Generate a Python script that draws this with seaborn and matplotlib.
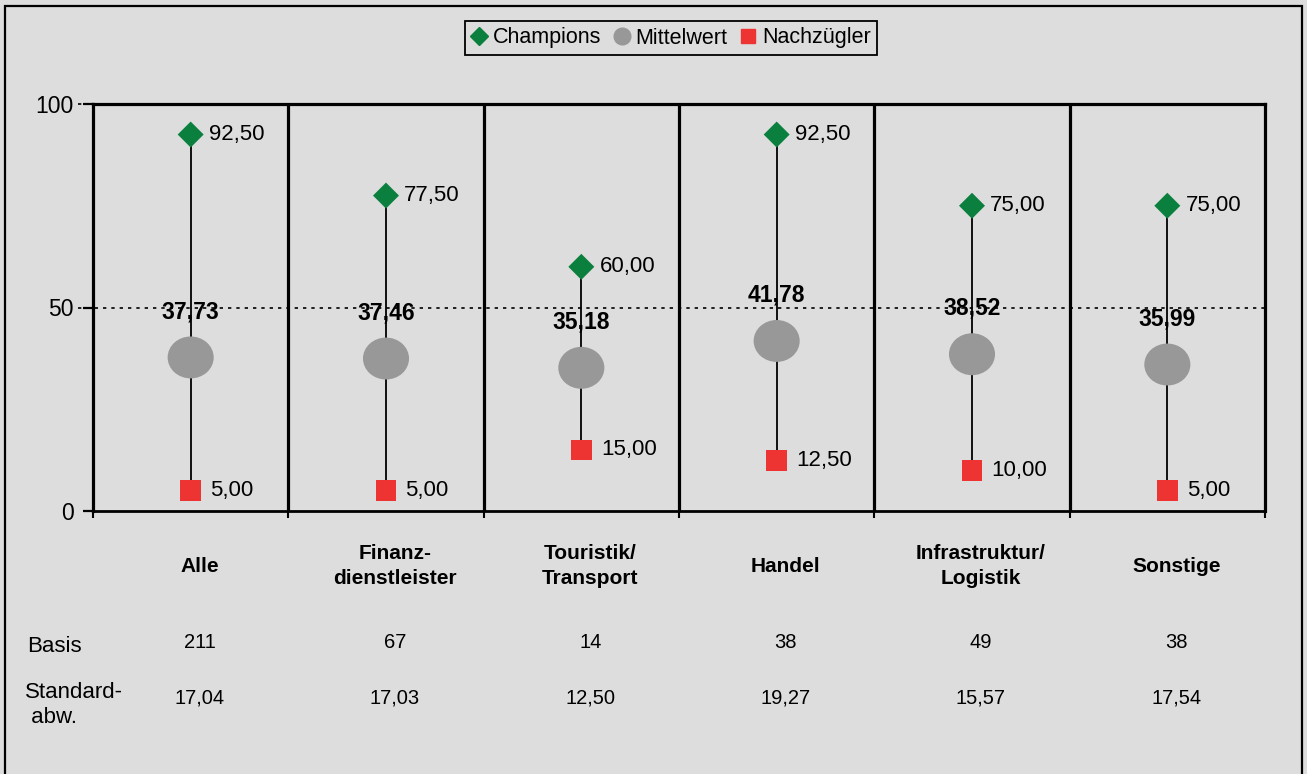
import matplotlib
matplotlib.use("Agg")
import matplotlib.pyplot as plt
import matplotlib.transforms as mtransforms
from matplotlib.lines import Line2D
from matplotlib.path import Path
from matplotlib.patches import Rectangle
import numpy as np
import pandas as pd
import seaborn as sns

categories = ["Alle", "Finanz-\ndienstleister", "Touristik/\nTransport", "Handel",
              "Infrastruktur/\nLogistik", "Sonstige"]
champions = [92.50, 77.50, 60.00, 92.50, 75.00, 75.00]
mittelwert = [37.73, 37.46, 35.18, 41.78, 38.52, 35.99]
nachzuegler = [5.00, 5.00, 15.00, 12.50, 10.00, 5.00]
basis = [211, 67, 14, 38, 49, 38]
standardabw = [17.04, 17.03, 12.50, 19.27, 15.57, 17.54]
yticks = [0, 50, 100]

BG = "#DDDDDD"
GREEN = "#0B7F3D"
GREY = "#989898"
RED = "#EE3333"

sns.set_style("white", {"axes.facecolor": BG, "figure.facecolor": BG,
                        "text.color": "black", "axes.labelcolor": "black",
                        "xtick.color": "black", "ytick.color": "black"})
plt.rcParams["font.family"] = ["Liberation Sans", "DejaVu Sans"]


def de(v):
    return f"{v:.2f}".replace(".", ",")


x = np.arange(len(categories))
df = pd.DataFrame({"x": x, "champions": champions, "mittelwert": mittelwert,
                   "nachzuegler": nachzuegler})

fig = plt.figure(figsize=(13.07, 7.74), dpi=100)
ax = fig.add_axes([93 / 1307, 1 - 511 / 774, (1265 - 93) / 1307, (511 - 104) / 774])
ax.set_xlim(-0.5, len(categories) - 0.5)
ax.set_ylim(0, 100)

# dotted reference lines
for yv in (50, 100):
    ax.axhline(yv, xmin=-0.013, xmax=1, color="black", lw=1.2,
               ls=(0, (2, 3)), clip_on=False, zorder=1)

# range lines from Nachzügler to Champions
ax.vlines(x, nachzuegler, champions, color="black", lw=1.3, zorder=2)

# category separators
for b in np.arange(0.5, len(categories) - 0.5, 1):
    ax.axvline(b, color="black", lw=2.3, zorder=3)

ellipse = Path.unit_circle().transformed(mtransforms.Affine2D().scale(1, 0.91))

sns.scatterplot(data=df, x="x", y="champions", marker="D", s=175, color=GREEN,
                edgecolor="none", ax=ax, zorder=5, legend=False)
sns.scatterplot(data=df, x="x", y="mittelwert", marker=ellipse, s=1100, color=GREY,
                edgecolor="none", ax=ax, zorder=5, legend=False)
sns.scatterplot(data=df, x="x", y="nachzuegler", marker="s", s=225, color=RED,
                edgecolor="none", ax=ax, zorder=5, legend=False)

for xi, c, m, n in zip(x, champions, mittelwert, nachzuegler):
    ax.annotate(de(c), (xi, c), xytext=(13, 0), textcoords="offset points",
                ha="left", va="center", fontsize=16, zorder=6)
    ax.annotate(de(n), (xi, n), xytext=(14, 0), textcoords="offset points",
                ha="left", va="center", fontsize=16, zorder=6)
    ax.annotate(de(m), (xi, m), xytext=(0, 33), textcoords="offset points",
                ha="center", va="center", fontsize=16.5, fontweight="bold", zorder=6)

# axes styling
for side in ("left", "right", "top"):
    ax.spines[side].set_visible(True)
    ax.spines[side].set_color("black")
    ax.spines[side].set_linewidth(2.3)
ax.spines["bottom"].set_color("black")
ax.spines["bottom"].set_linewidth(2.0)

ax.set_yticks(yticks)
ax.set_yticklabels([str(t) for t in yticks], fontsize=16.5)
ax.set_xticks(np.arange(-0.5, len(categories), 1))
ax.set_xticklabels([])
ax.tick_params(axis="y", direction="out", length=7, width=1.6, pad=7, left=True)
ax.tick_params(axis="x", direction="out", length=5, width=1.5, bottom=True)
ax.set_xlabel("")
ax.set_ylabel("")

# table below the axis (slightly right of the category centres)
shift = mtransforms.ScaledTranslation(9 / 100, 0, fig.dpi_scale_trans)
trans = mtransforms.blended_transform_factory(ax.transData, fig.transFigure) + shift
for xi, cat, b, s in zip(x, categories, basis, standardabw):
    ax.text(xi, 1 - 566 / 774, cat, transform=trans, ha="center", va="center",
            fontsize=15, fontweight="bold", linespacing=1.35)
    ax.text(xi, 1 - 643 / 774, str(b), transform=trans, ha="center", va="center",
            fontsize=14.5)
    ax.text(xi, 1 - 698 / 774, de(s), transform=trans, ha="center", va="center",
            fontsize=14.5)

fig.text(27 / 1307, 1 - 646 / 774, "Basis", ha="left", va="center", fontsize=16)
fig.text(25 / 1307, 1 - 705 / 774, "Standard-\n abw.", ha="left", va="center",
         fontsize=16, linespacing=1.25)

# legend
handles = [
    Line2D([], [], marker="D", ls="none", color=GREEN, markersize=9),
    Line2D([], [], marker="o", ls="none", color=GREY, markersize=12),
    Line2D([], [], marker="s", ls="none", color=RED, markersize=10),
]
leg = fig.legend(handles, ["Champions", "Mittelwert", "Nachzügler"],
                 loc="center", bbox_to_anchor=(671 / 1307, 1 - 38 / 774), ncol=3,
                 fontsize=15.5, frameon=True, fancybox=False, framealpha=1,
                 facecolor=BG, edgecolor="black", handlelength=0.7,
                 handletextpad=0.3, columnspacing=0.6, borderpad=0.3,
                 borderaxespad=0)
leg.get_frame().set_linewidth(1.3)

# outer frame
fig.patches.append(Rectangle((5 / 1307, -0.01), 1297 / 1307, 1.0 - 6 / 774 + 0.01,
                             transform=fig.transFigure, fill=False,
                             edgecolor="black", lw=1.6))

fig.savefig("out.png", dpi=100, facecolor=BG)
